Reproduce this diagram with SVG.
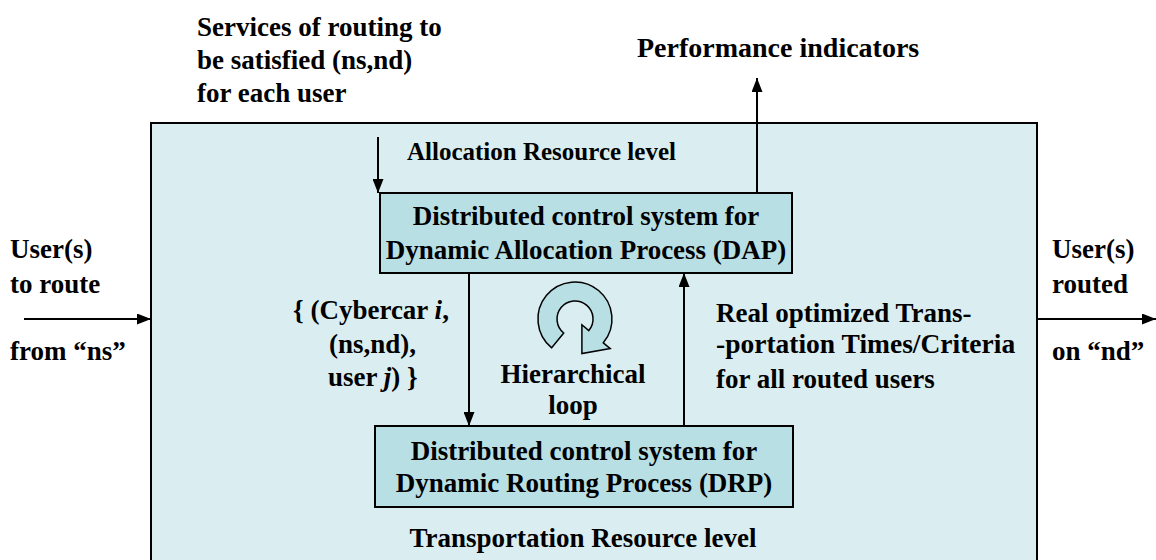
<svg xmlns="http://www.w3.org/2000/svg" width="1156" height="560" viewBox="0 0 1156 560" font-family="'Liberation Serif', 'DejaVu Serif', serif" font-weight="bold" font-size="27">
<style>
text{font-family:'Liberation Serif','DejaVu Serif',serif;font-weight:700;font-size:27px;fill:#000}
.c{text-anchor:middle}
.ln{stroke:#000;stroke-width:2;fill:none}
.box{fill:#B8DFE4;stroke:#000;stroke-width:2}
</style>
<defs>
<marker id="ah" viewBox="0 0 14 11" refX="14" refY="5.5" markerWidth="14" markerHeight="11" markerUnits="userSpaceOnUse" orient="auto">
<path d="M0,0 L14,5.5 L0,11 Z" fill="#000"/>
</marker>
</defs>
<rect width="1156" height="560" fill="#fff"/>
<g id="system">
<rect x="151" y="123" width="886" height="460" fill="#DAEEF1" stroke="#000" stroke-width="2"/>
<text x="407" y="160" style="font-size:25px">Allocation Resource level</text>
<text class="c" x="583" y="547">Transportation Resource level</text>
</g>
<g id="dap">
<rect class="box" x="380" y="193" width="412" height="80"/>
<text class="c" x="586" y="225">Distributed control system for</text>
<text class="c" x="586" y="259">Dynamic Allocation Process (DAP)</text>
</g>
<g id="drp">
<rect class="box" x="375" y="426" width="418" height="81"/>
<text class="c" x="584" y="460">Distributed control system for</text>
<text class="c" x="584" y="492">Dynamic Routing Process (DRP)</text>
</g>
<g id="loop">
<path d="M551.7,347.8 A37,37 0 1 1 603.3,342.8 L610.2,348.6 L581.9,353.5 L581.9,324.8 L588.8,330.6 A18,18 0 1 0 563.7,333 Z" fill="#B8DFE4" stroke="#000" stroke-width="1.5"/>
<text class="c" x="573" y="383">Hierarchical</text>
<text class="c" x="573" y="414">loop</text>
</g>
<g id="labels">
<text x="197" y="36">Services of routing to</text>
<text x="197" y="69">be satisfied (ns,nd)</text>
<text x="197" y="102">for each user</text>
<text x="637" y="57" style="font-size:28px">Performance indicators</text>
<text x="10" y="258">User(s)</text>
<text x="10" y="293">to route</text>
<text x="10" y="360">from “ns”</text>
<text x="1052" y="258">User(s)</text>
<text x="1052" y="293">routed</text>
<text x="1052" y="360">on “nd”</text>
<text x="293" y="319">{ (Cybercar <tspan font-style="italic">i</tspan>,</text>
<text x="329" y="353">(ns,nd),</text>
<text x="328" y="386">user <tspan font-style="italic">j</tspan>) }</text>
<text x="716" y="322">Real optimized Trans-</text>
<text x="716" y="353" style="font-size:27.5px">-portation Times/Criteria</text>
<text x="716" y="388">for all routed users</text>
</g>
<g id="connectors">
<line class="ln" x1="378" y1="137" x2="378" y2="193" marker-end="url(#ah)"/>
<line class="ln" x1="757" y1="193" x2="757" y2="78" marker-end="url(#ah)"/>
<line class="ln" x1="469" y1="273" x2="469" y2="426" marker-end="url(#ah)"/>
<line class="ln" x1="684" y1="426" x2="684" y2="273" marker-end="url(#ah)"/>
<line class="ln" x1="24" y1="319" x2="151" y2="319" marker-end="url(#ah)"/>
<line class="ln" x1="1037" y1="319" x2="1156" y2="319" marker-end="url(#ah)"/>
</g>
</svg>
